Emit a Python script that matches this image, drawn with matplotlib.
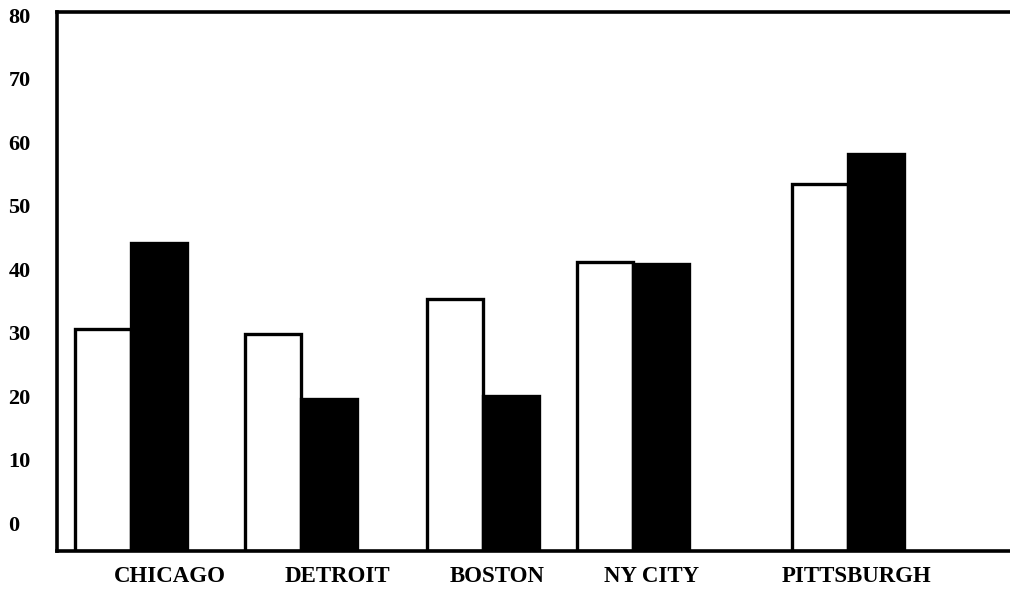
import matplotlib.pyplot as plt

# data (values against the 0 label)
cities = ["CHICAGO", "DETROIT", "BOSTON", "NY CITY", "PITTSBURGH"]
white_vals = [30.6, 29.8, 35.3, 41.1, 53.4]
black_vals = [44.1, 19.5, 20.0, 40.8, 58.1]
yticks = [0, 10, 20, 30, 40, 50, 60, 70, 80]

# layout: group centres and label spots (the original is not evenly spaced)
group_x = [0.74, 2.44, 4.26, 5.76, 7.91]
label_x = [1.13, 2.80, 4.40, 5.95, 8.00]
bar_w = 0.56
ymin, ymax = -4.4, 80.5

fig = plt.figure(figsize=(10.1, 5.95), dpi=100)
ax = fig.add_axes([57 / 1010, 1 - 551 / 595, 1 - 57 / 1010, 539 / 595])

for gx, w, b in zip(group_x, white_vals, black_vals):
    ax.bar(gx - bar_w / 2, w - ymin, bottom=ymin, width=bar_w,
           facecolor="white", edgecolor="black", linewidth=2.4)
    ax.bar(gx + bar_w / 2, b - ymin, bottom=ymin, width=bar_w,
           facecolor="black", edgecolor="black", linewidth=2.4)

ax.set_xlim(0, 9.53)
ax.set_ylim(ymin, ymax)

ax.set_yticks(yticks)
ax.set_yticklabels([str(t) for t in yticks], family="Liberation Serif",
                   fontweight="bold", fontsize=16, ha="left")
ax.tick_params(axis="y", length=0, pad=35)

ax.set_xticks(label_x)
ax.set_xticklabels(cities, family="Liberation Serif", fontweight="bold",
                   fontsize=16.5)
ax.tick_params(axis="x", length=0, pad=11)

for side in ["left", "top", "bottom"]:
    ax.spines[side].set_linewidth(2.6)
ax.spines["right"].set_visible(False)

fig.savefig("out.png", dpi=100)
